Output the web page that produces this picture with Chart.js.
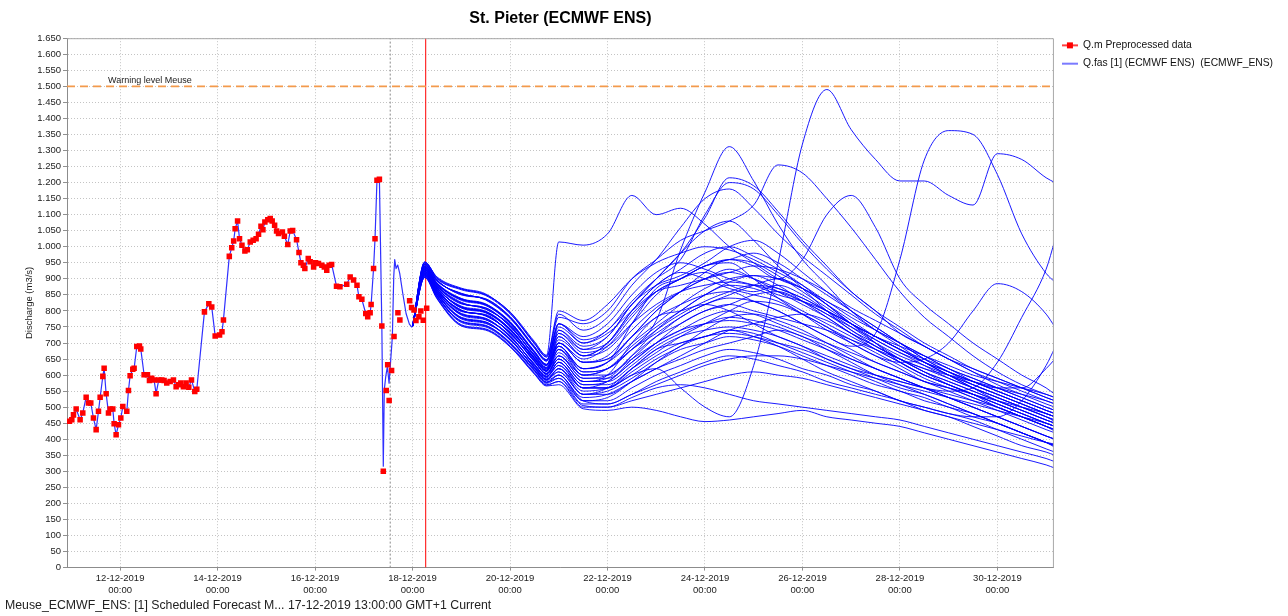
<!DOCTYPE html>
<html><head><meta charset="utf-8">
<script src="https://cdn.jsdelivr.net/npm/chart.js@4.4.1/dist/chart.umd.min.js"></script>
<style>html,body{margin:0;padding:0;background:#fff;}canvas{display:block;}</style>
</head><body>
<canvas id="c" width="1288" height="616"></canvas>
<script>
// ---- texts ----
const chartTitle = 'St. Pieter (ECMWF ENS)';
const footerText = 'Meuse_ECMWF_ENS: [1] Scheduled Forecast M... 17-12-2019 13:00:00 GMT+1 Current';
const yAxisTitle = 'Discharge (m3/s)';
const obsLabel = 'Q.m Preprocessed data';
const ensLabel = 'Q.fas [1] (ECMWF ENS)  (ECMWF_ENS)';
const warningLabel = 'Warning level Meuse';

// ---- axis / reference values (x in days since 12-12-2019 00:00) ----
const xMin = -1.09, xMax = 19.16;
const yMin = 0, yMax = 1650, yStep = 50;
const warningLevel = 1500;
const forecastTime = 5.5417;   // 17-12-2019 13:00
const currentTime = 6.27;      // T0 marker (red)
const xTickDays  = [0, 2, 4, 6, 8, 10, 12, 14, 16, 18];
const xTickDates = ['12-12-2019','14-12-2019','16-12-2019','18-12-2019','20-12-2019','22-12-2019','24-12-2019','26-12-2019','28-12-2019','30-12-2019'];
const xTickTimes = ['00:00','00:00','00:00','00:00','00:00','00:00','00:00','00:00','00:00','00:00'];

// ---- observed (Q.m Preprocessed data) ----
const obsDays = [-1.039,-0.991,-0.957,-0.902,-0.821,-0.766,-0.697,-0.649,-0.602,-0.547,-0.492,-0.444,-0.410,-0.355,-0.328,-0.287,-0.239,-0.205,-0.150,-0.123,-0.082,-0.034,0.014,0.055,0.137,0.171,0.205,0.260,0.287,0.342,0.397,0.424,0.492,0.561,0.602,0.649,0.697,0.738,0.793,0.855,0.902,0.957,1.026,1.094,1.149,1.197,1.245,1.299,1.354,1.409,1.464,1.532,1.573,
1.73,1.82,1.88,1.95,2.04,2.09,2.12,2.24,2.29,2.33,2.36,2.41,2.45,2.50,2.56,2.61,2.67,2.73,2.79,2.84,2.89,2.93,2.97,3.03,3.08,3.12,3.17,3.21,3.25,3.33,3.37,3.44,3.49,3.54,3.62,3.67,3.71,3.76,3.79,3.86,3.90,3.97,4.01,4.07,4.14,4.19,4.24,4.29,4.34,4.44,4.51,4.65,4.72,4.79,4.86,4.90,4.96,5.04,5.08,5.13,5.15,5.20,5.23,5.27,5.32,
5.37,5.40,5.46,5.49,5.52,5.57,5.62,5.70,5.74,5.94,5.98,6.03,6.07,6.13,6.17,6.22,6.29];
const obsQ = [456,461,476,494,461,482,531,513,513,466,430,487,531,596,621,542,482,494,494,448,414,445,466,502,487,552,598,618,621,689,691,681,601,601,583,590,585,542,585,585,583,575,580,585,564,570,575,564,575,562,585,549,556,
797,822,812,722,725,735,772,970,997,1018,1056,1080,1025,1005,987,991,1015,1020,1025,1039,1064,1053,1077,1084,1088,1080,1067,1049,1041,1046,1033,1007,1049,1051,1022,982,950,942,932,963,953,937,950,948,942,937,927,942,945,877,875,883,906,896,880,844,836,792,782,794,820,932,1025,1207,1210,
753,300,552,632,521,614,720,794,772,832,811,803,770,782,800,771,808];

// ---- simulated (Q.fas) before the ensemble split: follows obs up to simJoinDay, then this tail ----
const simJoinDay = 5.32;
const simTailDays = [5.37,5.40,5.42,5.45,5.484,5.518,5.552,5.586,5.614,5.634,5.662,5.696,5.737,5.799,5.867,5.935,5.99];
const simTailQ    = [753,316,554,595,627,575,647,720,906,960,932,943,917,855,792,759,749];

// ---- ensemble members (Q.fas [1] ECMWF ENS) ----
const ensDays = [6.0,6.25,6.5,7.0,7.5,8.0,8.5,8.75,9.0,9.5,10.0,10.5,11.0,11.5,12.0,12.5,13.0,13.5,14.0,14.5,15.0,15.5,16.0,16.5,17.0,17.5,18.0,18.5,19.0,19.18];
const m01 = [752,953,902,868,850,797,705,662,1015,1005,1040,1160,1100,1120,1070,1000,950,900,870,820,760,700,640,600,570,540,520,500,480,470];
const m02 = [752,940,884,838,818,766,670,630,690,610,620,680,770,990,1170,1312,1205,1070,960,880,800,740,690,640,600,560,520,490,460,450];
const m03 = [752,945,896,851,838,781,688,648,760,700,740,820,900,980,1090,1215,1190,1110,1020,940,860,800,730,690,650,610,570,540,510,500];
const m04 = [752,914,855,779,762,712,622,585,620,560,560,600,620,560,500,470,630,950,1320,1490,1365,1272,1205,1205,1160,1130,1290,1272,1215,1200];
const m05 = [752,929,874,810,798,744,650,612,700,640,650,720,780,820,850,860,830,800,760,720,690,730,960,1270,1362,1350,1225,1040,917,890];
const m06 = [752,923,867,800,787,730,645,603,650,580,600,700,780,800,820,800,760,720,690,650,620,600,580,560,550,560,640,780,930,1020];
const m07 = [752,935,878,825,806,755,660,620,690,620,640,760,870,900,940,950,900,840,790,740,700,660,640,650,700,800,885,860,790,750];
const m08 = [752,918,861,791,773,722,631,594,640,560,560,620,680,700,720,740,720,690,650,610,580,550,520,500,480,470,470,520,630,685];
const m09 = [752,930,871,813,795,741,654,615,720,660,700,800,880,930,980,1000,970,930,880,820,760,720,680,640,610,580,560,560,620,650];
const m10 = [752,938,887,835,821,762,673,633,740,680,700,790,860,900,940,960,940,900,960,1100,1160,1060,900,820,760,700,650,600,560,540];
const m11 = [752,951,906,871,853,793,698,656,780,760,800,900,960,1020,1050,1080,1130,1255,1230,1150,1060,960,860,780,720,660,610,570,540,530];
const m12 = [752,950,900,866,848,792,702,660,800,770,820,900,950,980,1000,990,960,920,880,830,790,740,700,660,620,590,560,530,500,490];
const m13 = [752,944,893,855,834,777,684,643,760,720,760,850,920,950,930,900,880,850,830,800,760,720,680,650,620,580,550,520,490,480];
const m14 = [752,947,897,850,837,783,690,648,730,680,720,820,900,980,1050,1080,1020,940,870,800,740,700,660,630,600,570,540,510,480,470];
const m15 = [752,937,884,833,817,761,669,629,720,660,680,760,850,900,920,880,860,880,850,800,750,700,650,610,580,550,520,490,460,450];
const m16 = [752,941,888,839,822,767,675,634,700,640,650,720,800,860,900,930,900,860,820,780,730,690,650,620,590,560,530,500,470,455];
const m17 = [752,932,877,822,810,751,664,624,690,620,640,700,760,820,870,900,910,880,830,780,730,680,640,600,570,540,500,470,440,430];
const m18 = [752,936,881,827,805,757,659,619,680,600,620,680,730,780,820,840,830,800,760,720,680,640,610,580,550,520,490,460,430,420];
const m19 = [752,927,870,815,799,739,650,611,670,600,600,660,720,760,800,820,850,860,830,790,740,690,650,610,570,540,510,480,450,440];
const m20 = [752,931,875,809,794,745,655,616,660,590,600,650,700,740,780,800,790,760,730,700,670,640,610,580,560,530,500,470,440,430];
const m21 = [752,925,864,803,784,734,641,606,650,580,580,630,690,730,760,780,770,750,720,690,650,620,590,560,530,500,470,440,410,400];
const m22 = [752,922,868,798,789,729,646,601,640,570,570,620,670,720,760,800,830,820,790,750,710,670,630,590,560,530,500,470,440,425];
const m23 = [752,920,858,792,777,719,635,597,630,560,560,610,660,700,720,740,730,700,670,640,610,580,550,530,500,480,450,420,390,380];
const m24 = [752,917,862,787,772,724,630,592,620,550,560,600,650,690,740,780,790,770,740,700,660,620,590,560,530,500,470,440,410,400];
const m25 = [752,916,851,780,766,709,626,588,610,540,550,590,640,680,700,720,710,690,660,630,600,570,550,520,500,470,450,420,390,380];
const m26 = [752,913,856,775,761,714,621,583,600,530,540,580,620,650,680,700,720,740,720,680,640,600,570,540,510,480,450,420,390,375];
const m27 = [752,911,848,769,755,702,617,579,590,520,520,560,600,630,660,680,670,650,620,600,570,550,520,500,480,460,430,400,370,360];
const m28 = [752,908,845,764,750,697,612,574,590,510,510,540,580,610,640,660,650,630,610,580,560,540,520,490,470,440,410,380,360,350];
const m29 = [752,906,842,757,744,692,607,570,580,500,500,530,560,570,560,540,520,510,500,490,480,470,460,440,420,400,380,360,340,330];
const m30 = [752,904,838,753,740,688,603,566,570,495,490,500,490,470,455,460,470,480,490,470,460,450,440,420,400,380,360,340,320,310];
const m31 = [752,928,873,811,796,743,651,614,700,650,690,780,860,900,940,960,980,950,900,850,800,750,700,650,610,580,550,520,490,480];
const m32 = [752,933,880,823,809,752,663,623,710,660,700,800,880,920,900,870,850,830,790,750,700,660,620,580,560,540,510,480,450,440];
const m33 = [752,939,885,837,820,765,671,632,740,690,720,820,880,910,950,1000,1020,980,920,860,800,750,700,650,610,570,540,510,480,470];
const m34 = [752,924,865,802,785,733,644,605,660,600,620,690,750,800,850,880,870,840,800,760,720,680,640,600,570,540,510,480,450,440];
const m35 = [752,919,859,789,776,720,634,596,640,570,580,650,720,780,820,850,880,900,870,820,770,720,680,640,600,570,540,510,480,470];
const m36 = [752,915,854,777,765,710,625,587,620,540,540,580,620,660,700,740,760,780,790,770,730,690,650,610,580,550,520,490,460,450];
const m37 = [752,952,904,869,851,796,699,657,790,740,780,880,960,1060,1150,1180,1120,1040,970,910,850,790,740,690,650,610,580,550,520,510];
const m38 = [752,945,894,854,835,780,687,646,750,700,730,800,860,880,900,920,940,930,900,860,810,770,730,690,650,620,590,560,530,520];
const m39 = [752,929,872,812,797,742,652,613,680,610,620,680,740,790,830,860,880,870,840,800,760,720,690,660,630,600,580,560,540,530];
const m40 = [752,924,866,801,786,732,643,604,660,590,590,640,700,760,800,820,800,780,760,740,710,680,650,620,600,580,560,540,520,510];
const m41 = [752,910,847,767,753,700,615,577,600,520,510,540,570,600,630,650,660,660,650,630,610,590,570,550,530,510,490,470,450,440];
const m42 = [752,905,840,755,742,690,605,568,580,505,500,520,540,560,580,600,610,600,590,570,550,530,510,490,470,450,430,410,390,385];
const m43 = [752,919,860,790,775,721,633,595,630,560,580,640,700,740,760,770,760,740,710,680,650,620,590,560,530,500,470,440,410,400];
const m44 = [752,939,886,836,819,764,672,631,730,670,690,760,820,860,880,890,880,860,830,790,750,710,670,640,610,580,550,520,490,480];
const m45 = [752,934,879,824,808,753,662,622,700,640,660,740,810,860,900,920,900,870,840,800,760,720,680,640,600,560,530,500,470,460];
const m46 = [752,915,853,778,764,711,624,586,610,540,560,620,680,720,740,750,740,720,690,660,630,600,580,560,540,520,500,470,440,430];
const m47 = [752,929,872,812,797,742,652,613,680,620,640,720,800,860,920,960,950,910,860,810,760,710,670,630,590,560,530,500,470,460];
const m48 = [752,910,847,767,753,700,615,577,600,520,530,580,640,690,720,730,720,700,680,650,620,590,560,540,510,480,450,420,390,380];
const m49 = [752,946,895,853,836,779,686,645,760,710,740,830,900,960,1100,1200,1180,1100,1010,930,860,800,750,700,660,620,590,560,530,520];
const m50 = [752,924,866,801,786,732,643,604,650,580,590,660,740,800,850,890,910,900,870,830,780,740,700,660,620,590,560,530,500,490];
const members = [m01,m02,m03,m04,m05,m06,m07,m08,m09,m10,m11,m12,m13,m14,m15,m16,m17,m18,m19,m20,m21,m22,m23,m24,m25,m26,m27,m28,m29,m30,m31,m32,m33,m34,m35,m36,m37,m38,m39,m40,m41,m42,m43,m44,m45,m46,m47,m48,m49,m50];

// ---- styles ----
const RED = '#ff0000';
const BLUE = 'rgba(0,0,255,0.9)';
const BLUE_HIST = '#3030ff';
const ORANGE = '#f39a4c';
const FONT = 'Liberation Sans';

const toXY = (xs, ys) => xs.map((x, i) => ({x: x, y: ys[i]}));
const simPoints = toXY(obsDays, obsQ).filter(p => p.x <= simJoinDay).concat(toXY(simTailDays, simTailQ));

function makeIcon(color, withSquare) {
  const c = document.createElement('canvas');
  c.width = 16; c.height = 8;
  const g = c.getContext('2d');
  g.strokeStyle = color; g.lineWidth = withSquare ? 1.5 : 1.2;
  g.beginPath(); g.moveTo(0, 4); g.lineTo(16, 4); g.stroke();
  if (withSquare) { g.fillStyle = color; g.fillRect(5, 1, 6, 6); }
  return c;
}
const obsIcon = makeIcon(RED, true);
const ensIcon = makeIcon('#2020ff', false);

const datasets = [];
datasets.push({label: obsLabel, data: toXY(obsDays, obsQ), showLine: false, pointStyle: 'rect', pointRadius: 3.9, pointHoverRadius: 3.9, pointBackgroundColor: RED, pointBorderColor: RED, pointBorderWidth: 0, borderColor: RED, backgroundColor: RED});
datasets.push({label: ensLabel, data: simPoints, showLine: true, borderColor: BLUE_HIST, borderWidth: 1.2, pointRadius: 0, tension: 0, fill: false});
members.forEach(m => datasets.push({label: ensLabel, data: toXY(ensDays, m), showLine: true, borderColor: BLUE, borderWidth: 1, pointRadius: 0, cubicInterpolationMode: 'monotone', fill: false}));
datasets.push({label: '_warn', data: [{x: xMin, y: warningLevel}, {x: xMax, y: warningLevel}], showLine: true, borderColor: ORANGE, borderWidth: 1.6, borderDash: [8, 5], pointRadius: 0, fill: false});
datasets.push({label: '_fc', data: [{x: forecastTime, y: yMin}, {x: forecastTime, y: yMax}], showLine: true, borderColor: '#8a8a8a', borderWidth: 1, borderDash: [2, 2], pointRadius: 0, fill: false});
datasets.push({label: '_t0', data: [{x: currentTime, y: yMin}, {x: currentTime, y: yMax}], showLine: true, borderColor: RED, borderWidth: 1, pointRadius: 0, fill: false});

const fmtThousands = v => v >= 1000 ? Math.floor(v / 1000) + '.' + String(v % 1000).padStart(3, '0') : String(v);

const decor = {
  id: 'decor',
  afterLayout(chart) { chart.legend.top -= 6; chart.legend.bottom -= 6; },
  afterDatasetsDraw(chart) {
    const {ctx, chartArea: a, scales: {y}} = chart;
    ctx.save();
    ctx.font = '9px "' + FONT + '"';
    ctx.fillStyle = '#222';
    ctx.textBaseline = 'alphabetic';
    ctx.fillText(warningLabel, a.left + 41, y.getPixelForValue(warningLevel) - 3);
    ctx.strokeStyle = '#a8a8a8'; ctx.lineWidth = 1;
    ctx.beginPath();
    ctx.moveTo(a.left, a.top + 0.5); ctx.lineTo(a.right - 0.5, a.top + 0.5); ctx.lineTo(a.right - 0.5, a.bottom);
    ctx.stroke();
    ctx.restore();
  }
};

new Chart(document.getElementById('c'), {
  type: 'scatter',
  data: {datasets: datasets},
  plugins: [decor],
  options: {
    responsive: false, animation: false, devicePixelRatio: 1,
    layout: {padding: {left: 5, right: 5, top: 0, bottom: 0}},
    elements: {line: {borderJoinStyle: 'round'}},
    plugins: {
      title: {display: true, text: chartTitle, fullSize: false, color: '#000', font: {family: FONT, size: 16, weight: 'bold'}, padding: {top: 9, bottom: 10}},
      subtitle: {display: true, text: footerText, position: 'bottom', align: 'start', fullSize: true, color: '#222', font: {family: FONT, size: 12.3}, padding: {top: 0, bottom: 3}},
      tooltip: {enabled: false},
      legend: {
        display: true, position: 'right', align: 'start', fullSize: false,
        labels: {
          usePointStyle: true, pointStyleWidth: 16, padding: 8, color: '#111',
          font: {family: FONT, size: 10.3},
          generateLabels: () => [
            {text: obsLabel, pointStyle: obsIcon, datasetIndex: 0, fillStyle: RED, strokeStyle: RED, lineWidth: 0, hidden: false, fontColor: '#111'},
            {text: ensLabel, pointStyle: ensIcon, datasetIndex: 1, fillStyle: '#2020ff', strokeStyle: '#2020ff', lineWidth: 0, hidden: false, fontColor: '#111'}
          ]
        }
      }
    },
    scales: {
      x: {
        type: 'linear', min: xMin, max: xMax,
        afterBuildTicks: axis => { axis.ticks = xTickDays.map(v => ({value: v})); },
        ticks: {
          autoSkip: false, maxRotation: 0, minRotation: 0, padding: 1, color: '#222',
          font: {family: FONT, size: 9.5, lineHeight: 1.35},
          callback: v => { const i = xTickDays.indexOf(v); return i >= 0 ? [xTickDates[i], xTickTimes[i]] : ''; }
        },
        grid: {color: '#c4c4c4', tickColor: '#909090', tickLength: 3, lineWidth: 1},
        border: {color: '#8c8c8c', dash: [1, 2]}
      },
      y: {
        type: 'linear', min: yMin, max: yMax,
        afterFit: s => { s.width = 62; },
        ticks: {stepSize: yStep, autoSkip: false, padding: 2, color: '#222', font: {family: FONT, size: 9.5}, callback: v => fmtThousands(v)},
        grid: {color: '#c4c4c4', tickColor: '#909090', tickLength: 4, lineWidth: 1},
        border: {color: '#8c8c8c', dash: [1, 2]},
        title: {display: true, text: yAxisTitle, color: '#222', font: {family: FONT, size: 9.5}, padding: {top: 19, bottom: 0}}
      }
    }
  }
});
</script>
</body></html>
